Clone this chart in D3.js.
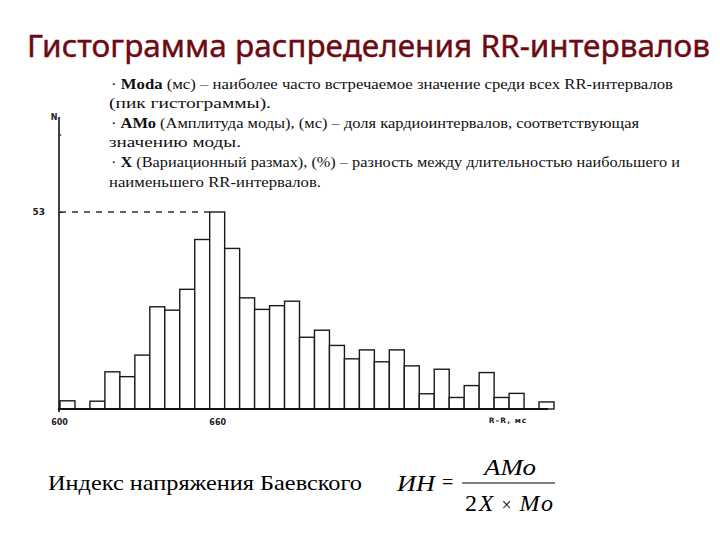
<!DOCTYPE html>
<html>
<head>
<meta charset="utf-8">
<script src="https://cdn.jsdelivr.net/npm/d3@7/dist/d3.min.js"></script>
<style>
  html, body { margin: 0; padding: 0; background: #fff; }
  svg { display: block; }
</style>
</head>
<body>
<svg id="chart" width="720" height="540"></svg>
<script>
// ---- data ----
const title = "Гистограмма распределения RR-интервалов";
const bins = d3.range(33).map(i => "b" + i); // histogram bin categories
const counts = [2.2, 0, 2.1, 10, 8.7, 14.5, 27.5, 26.6, 32.2, 45.6, 53, 43.2, 29.9, 26.8, 27.8, 29,
                19.3, 21.2, 17.1, 13.5, 15.9, 12.7, 15.9, 11.6, 4.1, 10.7, 3.1, 6.3, 9.8, 3.1, 4.2, 0, 1.9];
const modeValue = 53;
const modeIndex = 10;
const xTickValues = [600, 660];
const xTickLabels = ["600", "660"];
const yAxisLabel = "N";
const xAxisLabel = "R–R, мс";
const notes = [
  [["· ", false], ["Moda", true], [" (мс) – наиболее часто встречаемое значение среди всех RR-интервалов", false]],
  [["(пик гистограммы).", false]],
  [["· ", false], ["АМо", true], [" (Амплитуда моды), (мс) – доля кардиоинтервалов, соответствующая", false]],
  [["значению моды.", false]],
  [["· ", false], ["Х", true], [" (Вариационный размах), (%) – разность между длительностью наибольшего и", false]],
  [["наименьшего RR-интервалов.", false]]
];
const indexLabel = "Индекс напряжения Баевского";

// ---- drawing ----
const svg = d3.select("#chart");

svg.append("text")
  .attr("x", 27).attr("y", 57)
  .attr("font-family", "'Noto Sans', 'DejaVu Sans', sans-serif")
  .attr("font-size", 31)
  .attr("fill", "#6d0a12")
  .attr("stroke", "#6d0a12").attr("stroke-width", 0.4)
  .attr("textLength", 683)
  .attr("lengthAdjust", "spacingAndGlyphs")
  .text(title);

const x0 = 60, x1 = 554;
const yBase = 409, yTop = 212;
const x = d3.scaleBand().domain(bins).range([x0, x1]).padding(0);
const y = d3.scaleLinear().domain([0, modeValue]).range([yBase, yTop]);
const xms = d3.scaleLinear().domain(xTickValues).range([x0 - 1, x(bins[modeIndex]) + x.bandwidth() / 2]);

const g = svg.append("g");

// bars
g.selectAll("rect.bar")
  .data(counts.map((v, i) => ({ bin: bins[i], v })).filter(d => d.v > 0))
  .join("rect")
  .attr("class", "bar")
  .attr("x", d => x(d.bin))
  .attr("y", d => y(d.v))
  .attr("width", x.bandwidth())
  .attr("height", d => y(0) - y(d.v))
  .attr("fill", "#fff")
  .attr("stroke", "#1a1a1a")
  .attr("stroke-width", 1.4);

// dashed mode line
g.append("line")
  .attr("x1", x0).attr("x2", x(bins[modeIndex]))
  .attr("y1", y(modeValue)).attr("y2", y(modeValue))
  .attr("stroke", "#333").attr("stroke-width", 1.3)
  .attr("stroke-dasharray", "6,6");

// y axis
const yAxis = d3.axisLeft(y).tickValues([modeValue]).tickSize(-4).tickPadding(14).tickFormat(d3.format("d"));
const ya = g.append("g").attr("transform", `translate(${x0 - 1},0)`).call(yAxis);
ya.select(".domain").remove();
ya.selectAll("text")
  .attr("font-family", "'DejaVu Sans', sans-serif")
  .attr("font-size", 9).attr("font-weight", "bold").attr("fill", "#222");
ya.selectAll("line").attr("stroke", "#222");
g.append("line")
  .attr("x1", x0 - 1).attr("x2", x0 - 1)
  .attr("y1", 117).attr("y2", yBase + 3)
  .attr("stroke", "#111").attr("stroke-width", 1.6);
g.append("line").attr("x1", x0 - 1).attr("x2", x0 + 1).attr("y1", 132).attr("y2", 136)
  .attr("stroke", "#444").attr("stroke-width", 1);
g.append("text")
  .attr("x", x0 - 6).attr("y", 120)
  .attr("text-anchor", "middle")
  .attr("font-family", "'DejaVu Sans', sans-serif")
  .attr("font-size", 8).attr("font-weight", "bold").attr("fill", "#222")
  .text(yAxisLabel);

// x axis
const xAxis = d3.axisBottom(xms).tickValues(xTickValues).tickSize(0).tickPadding(10)
  .tickFormat((d, i) => xTickLabels[i]);
const xa = g.append("g").attr("transform", `translate(0,${yBase})`).call(xAxis);
xa.select(".domain").remove();
xa.selectAll("text")
  .attr("font-family", "'DejaVu Sans', sans-serif")
  .attr("font-size", 8).attr("font-weight", "bold").attr("fill", "#222");
g.append("line")
  .attr("x1", x0 - 2).attr("x2", 548)
  .attr("y1", yBase).attr("y2", yBase)
  .attr("stroke", "#111").attr("stroke-width", 2);
g.append("text")
  .attr("x", 508).attr("y", 423)
  .attr("text-anchor", "middle")
  .attr("font-family", "'DejaVu Sans', sans-serif")
  .attr("font-size", 7.5).attr("font-weight", "bold").attr("fill", "#222")
  .attr("letter-spacing", 1)
  .text(xAxisLabel);

// notes text block (one text element per line, fitted to the reference widths)
const lineY = [89, 108, 128, 147, 167, 187];
const lineX = [111, 109, 111, 109, 111, 109];
const lineW = [562, 162, 528, 132, 569, 212];
notes.forEach((parts, li) => {
  const t = svg.append("text")
    .attr("x", lineX[li]).attr("y", lineY[li])
    .attr("font-family", "'Liberation Serif', 'Times New Roman', serif")
    .attr("font-size", 15.5)
    .attr("fill", "#111")
    .attr("textLength", lineW[li])
    .attr("lengthAdjust", "spacingAndGlyphs");
  parts.forEach(p => {
    t.append("tspan").text(p[0]).attr("font-weight", p[1] ? "bold" : "normal");
  });
});

// bottom: Baevsky index
svg.append("text")
  .attr("x", 48).attr("y", 490)
  .attr("font-family", "'Liberation Serif', 'Times New Roman', serif")
  .attr("font-size", 22).attr("fill", "#000")
  .attr("textLength", 314)
  .attr("lengthAdjust", "spacingAndGlyphs")
  .text(indexLabel);

const f = svg.append("g")
  .attr("font-family", "'Liberation Serif', 'Times New Roman', serif")
  .attr("font-size", 24).attr("fill", "#000");
f.append("text").attr("x", 397).attr("y", 491).attr("font-style", "italic")
  .attr("textLength", 38).attr("lengthAdjust", "spacingAndGlyphs").text("ИН");
f.append("text").attr("x", 442).attr("y", 489).attr("font-size", 20).text("=");
f.append("text").attr("x", 510).attr("y", 475).attr("text-anchor", "middle").attr("font-style", "italic")
  .attr("textLength", 52).attr("lengthAdjust", "spacingAndGlyphs").text("АМо");
f.append("line").attr("x1", 462).attr("x2", 555).attr("y1", 483).attr("y2", 483)
  .attr("stroke", "#000").attr("stroke-width", 1);
const den = f.append("text").attr("x", 465).attr("y", 511)
  .attr("textLength", 88).attr("lengthAdjust", "spacing");
den.append("tspan").text("2");
den.append("tspan").attr("font-style", "italic").text("Х");
den.append("tspan").attr("font-size", 18).text(" × ");
den.append("tspan").attr("font-style", "italic").text("Мо");
</script>
</body>
</html>
